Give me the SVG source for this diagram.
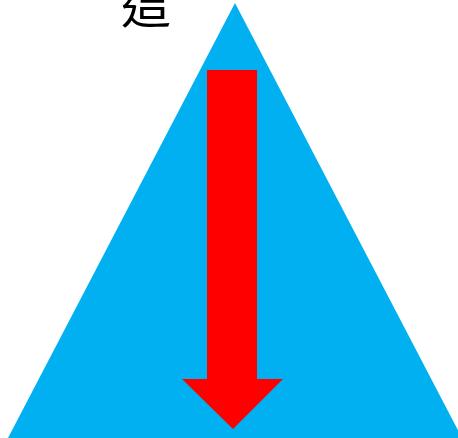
<svg xmlns="http://www.w3.org/2000/svg" width="458" height="438" viewBox="0 0 458 438">
<style>
.lbl{font-family:"Noto Sans CJK TC","Noto Sans CJK SC",sans-serif;font-size:50px;fill:#000}
</style>
<rect width="458" height="438" fill="#fff"/>
<g id="triangle"><polygon points="235,3 8,438 462,438" fill="#00b0f0"/></g>
<g id="connectors"><polygon id="arrow" points="207,70 257,70 257,379 283,379 233,429 182,379 207,379" fill="#ff0000"/></g>
<g id="label"><text class="lbl" x="121" y="23">這</text></g>
</svg>
